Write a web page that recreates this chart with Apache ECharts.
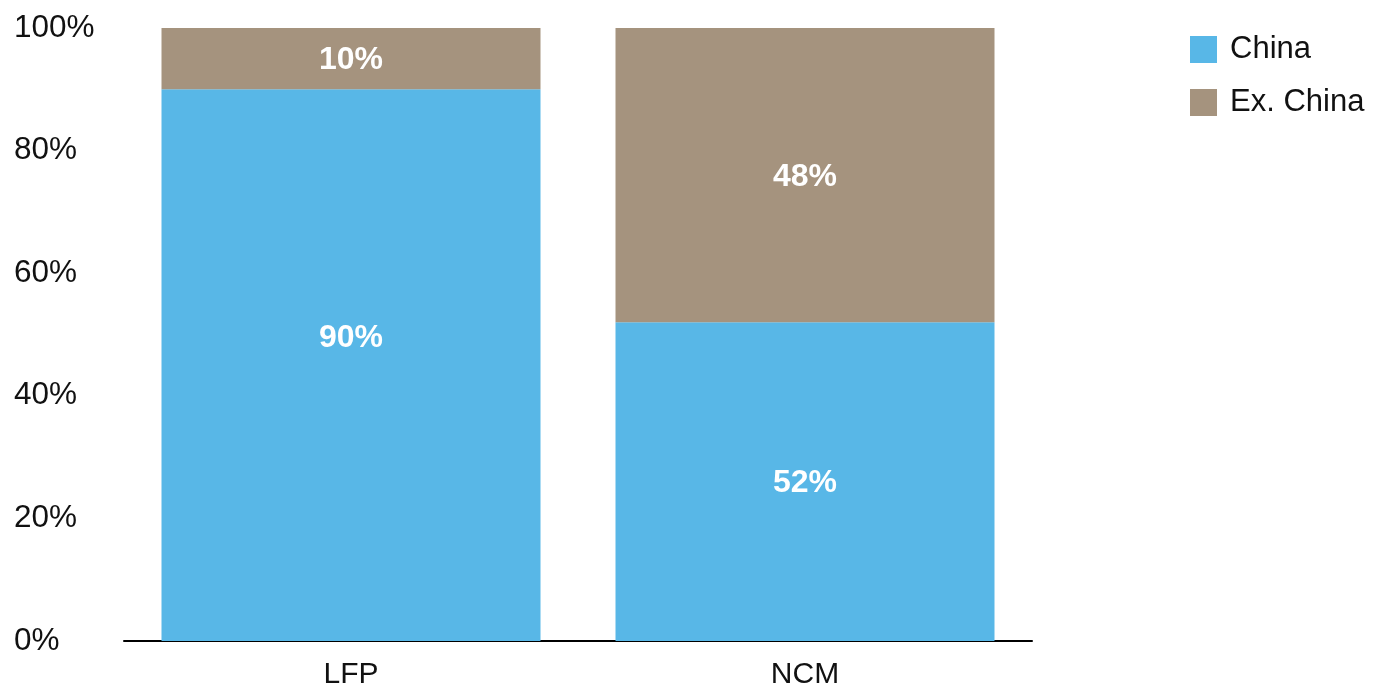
<!DOCTYPE html>
<html>
<head>
<meta charset="utf-8">
<script src="https://cdn.jsdelivr.net/npm/echarts@6/dist/echarts.min.js"></script>
<style>
html,body{margin:0;padding:0;background:#fff;}
#c{width:1375px;height:686px;}
</style>
</head>
<body>
<div id="c"></div>
<script>
const categories = ['LFP', 'NCM'];
const chinaValues = [90, 52];
const exChinaValues = [10, 48];
const yTicks = [0, 20, 40, 60, 80, 100];

const chart = echarts.init(document.getElementById('c'), null, {renderer: 'canvas'});
const FONT = '"Liberation Sans", Helvetica, Arial, sans-serif';
const labelStyle = {
  show: true,
  position: 'inside',
  color: '#ffffff',
  fontWeight: 'bold',
  fontSize: 32,
  fontFamily: FONT,
  offset: [0, 2],
  formatter: p => p.value + '%'
};
chart.setOption({
  animation: false,
  textStyle: {fontFamily: FONT},
  grid: {left: 124, right: 343, top: 28, bottom: 45, containLabel: false, outerBoundsMode: 'none'},
  legend: {
    orient: 'vertical',
    left: 1185,
    top: 29,
    itemWidth: 27,
    itemHeight: 27,
    itemGap: 22,
    icon: 'rect',
    textStyle: {fontSize: 31, lineHeight: 27, color: '#111', fontFamily: FONT, padding: [2, 0, 0, 8]},
    data: ['China', 'Ex. China']
  },
  xAxis: {
    type: 'category',
    data: categories,
    axisLine: {lineStyle: {color: '#000', width: 2}},
    axisTick: {show: false},
    axisLabel: {fontSize: 30, color: '#111', margin: 19, fontFamily: FONT}
  },
  yAxis: {
    type: 'value',
    min: 0,
    max: 100,
    interval: 20,
    axisLine: {show: false},
    axisTick: {show: false},
    splitLine: {show: false},
    axisLabel: {
      fontSize: 31.5,
      color: '#111',
      align: 'left',
      margin: 110,
      fontFamily: FONT,
      formatter: v => yTicks.includes(v) ? v + '%' : ''
    }
  },
  series: [
    {
      name: 'China',
      type: 'bar',
      stack: 'total',
      data: chinaValues.map((v, i) => i === 0 ? {value: v, label: {offset: [0, -27]}} : v),
      barWidth: 379,
      itemStyle: {color: '#58B7E7'},
      label: labelStyle
    },
    {
      name: 'Ex. China',
      type: 'bar',
      stack: 'total',
      data: exChinaValues,
      barWidth: 379,
      itemStyle: {color: '#A5937E'},
      label: labelStyle
    }
  ]
});
</script>
</body>
</html>
